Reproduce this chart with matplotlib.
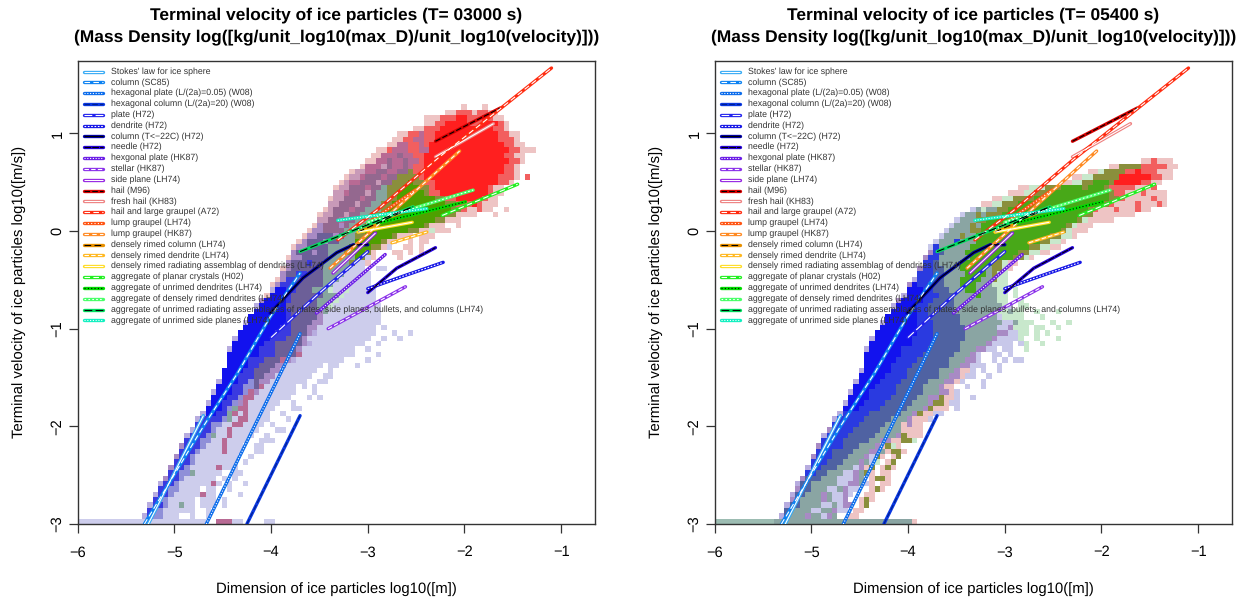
#!/usr/bin/env python3
"""Terminal velocity of ice particles, two output times side by side."""

import re
import numpy as np
import matplotlib
matplotlib.use('Agg')
import matplotlib.pyplot as plt
from matplotlib.colors import to_rgba

plt.rcParams['font.family'] = ['Liberation Sans', 'DejaVu Sans']
plt.rcParams['text.hinting'] = 'no_hinting'

times = ['03000', '05400']
x_ticks = [-6, -5, -4, -3, -2, -1]
y_ticks = [-3, -2, -1, 0, 1]

line_names = [
    "Stokes' law for ice sphere", "column (SC85)",
    "hexagonal plate (L/(2a)=0.05) (W08)", "hexagonal column (L/(2a)=20) (W08)",
    "plate (H72)", "dendrite (H72)", "column (T<\u221222C) (H72)", "needle (H72)",
    "hexgonal plate (HK87)", "stellar (HK87)", "side plane (LH74)", "hail (M96)",
    "fresh hail (KH83)", "hail and large graupel (A72)", "lump graupel (LH74)",
    "lump graupel (HK87)", "densely rimed column (LH74)", "densely rimed dendrite (LH74)",
    "densely rimed radiating assemblag of dendrites (LH74)",
    "aggregate of planar crystals (H02)", "aggregate of unrimed dendrites (LH74)",
    "aggregate of densely rimed dendrites (LH74)",
    "aggregate of unrimed radiating assemblages of plates, side planes, bullets, and columns (LH74)",
    "aggregate of unrimed side planes (LH74)",
]
line_x = [
    [-5.27, -4.70], [-5.31, -4.70, -4.35, -4.01, -3.70], [-4.67, -3.70], [-4.25, -3.70],
    [-4.00, -3.53, -3.00], [-3.00, -2.60, -2.22], [-4.01, -3.67, -3.32, -3.15, -3.00],
    [-3.00, -2.70, -2.30], [-3.53, -2.82], [-3.41, -2.61], [-3.36, -2.92], [-2.30, -1.63],
    [-2.30, -1.70], [-3.31, -2.91, -2.27, -1.10], [-3.10, -2.51], [-3.39, -2.05],
    [-3.10, -2.53], [-2.75, -2.39], [-3.10, -2.54], [-2.23, -1.45], [-2.90, -1.99],
    [-3.00, -1.91], [-3.70, -2.53], [-3.31, -2.39],
]
line_y = [
    [-3.00, -1.89], [-3.00, -2.00, -1.46, -0.88, -0.43], [-3.00, -1.05], [-3.00, -1.89],
    [-1.09, -0.66, -0.21], [-0.59, -0.45, -0.32], [-0.84, -0.48, -0.22, -0.14, -0.14],
    [-0.63, -0.38, -0.17], [-0.84, -0.24], [-1.00, -0.57], [-0.43, -0.02], [0.92, 1.26],
    [0.76, 1.10], [-0.09, 0.21, 0.75, 1.67], [0.01, 0.42], [-0.38, 0.82],
    [-0.01, 0.25], [-0.12, -0.01], [-0.01, 0.09], [0.16, 0.48], [0.08, 0.30],
    [0.09, 0.42], [-0.21, 0.25], [0.11, 0.23],
]
line_colors = [
    '#35aaf5', '#0c82f2', '#0b6cec', '#0a38e2', '#2222ee', '#1616e6', '#0000a8', '#2400dc',
    '#6a1ce6', '#8a30ea', '#9422e2', '#d80000', '#ee8080', '#ff2c10', '#ff5412', '#ff8a22',
    '#e89000', '#ffb820', '#ffdc20', '#20f020', '#00dd00', '#48ff68', '#00e060', '#10f0c0',
]
inner_colors = [
    'white', 'white', 'white', '#002090', 'white', 'white', 'black', 'black',
    'white', 'white', 'white', 'black', 'white', 'white', 'white', 'white',
    'black', 'white', 'white', 'white', 'black', 'white', 'black', 'white',
]
inner_dashes = [
    None, (5, 3), (1, 1.5), (5, 2), (7, 3), (1.5, 1.5), None, (6, 1),
    (1, 1.5), (4, 2), None, (5, 2), None, (5, 3), (1, 2), (4, 3),
    (6, 3), (4, 2), None, (5, 3), (1, 2), (1.5, 2), (7, 3), (1, 1.5),
]

cell_colors = {
    'L': '#cdcdec', 'P': '#b7acdf', 'M': '#a88ac4', 'V': '#b86a94', 'D': '#6c5f98',
    'E': '#94688f', 'W': '#c89ab8',
    'B': '#1212ee', 'b': '#3a3ae0', 'c': '#8f8fd8', 't': '#86a59f', 'g': '#4ea000',
    'o': '#8a8f3c', 'R': '#ff1f1f', 'r': '#f25f5f', 'p': '#eec4c4', 'n': '#c8e8cc',
    'T': '#9cbcb2',
}
right_overrides = {'D': '#4f62a2', 't': '#8aa5a3', 'b': '#2a3ae0', 'g': '#48a818', 'L': '#c8c8ea'}

# each row, top down: first column, then letter+run length (_ = empty cells)
left_cells = [
    "", "72 p1 _3 p1", "69 p2 r3 p1 r2 p2", "65 p3 r3 R2 r3 R1 r1 p2", "65 p2 r2 R4 r3 R3 r1 p1",
    "63 p2 r3 R10 r2 p1", "60 p2 r2 V1 r2 R12 r2 p2", "59 p2 r2 V2 r2 R12 r2 r1 p1",
    "58 p2 V2 r2 V1 r1 R14 r2 p2", "56 p2 r1 V3 r2 V2 R15 r2 p3", "55 p2 V3 E1 V2 r2 R15 r2 p2",
    "54 p2 V2 E1 V2 E1 V2 r1 R16 r2 p1", "53 p1 V3 W1 E1 V2 E1 V1 r2 R15 r2 p1",
    "51 p1 W2 V2 E2 V2 E2 o1 r2 R15 r2 p1", "50 p1 W2 V1 E3 V1 E2 o4 r1 R14 r3 p1 _1 r1",
    "49 p1 W1 V2 E3 W1 E2 o3 g1 o2 r2 R12 r2 p1", "48 p1 W2 E3 V1 E2 t1 o3 g3 o2 r1 R10 r1 p2",
    "48 W2 V1 E3 W1 E1 t2 o2 g5 o1 r2 R9 r1 p2", "47 p1 W2 E3 V1 E2 t2 o2 g7 o2 r2 R5 r1 p2",
    "47 W2 E3 W1 E2 t2 o2 g10 o2 r3 R1 r1 p3", "46 p1 W1 E3 V1 E2 t3 o1 g12 o2 r1 p2 r1 p2 _2 p1",
    "45 p1 W2 E2 W1 E2 t2 o2 g12 o2 p4 _3 p1", "45 W2 E2 V1 E2 t3 o1 g11 o2 p3",
    "44 p1 M1 E3 M1 E1 t3 o2 g9 o1 p3 _2 p1", "43 p1 M2 E4 t3 o1 g8 o2 p2 n1 p3",
    "42 p1 M2 D3 M1 D1 t2 o2 g5 o1 p3 _1 p3", "41 p1 M1 D3 M1 D2 t3 g5 o1 p2 _2 p1 _1 p2",
    "40 p1 M2 D4 t4 g4 o2 p1 L1 _2 p2 _1 p1", "40 M1 D3 M1 D2 t3 o2 g2 o1 p1 _3 p2 _1 p1 _1 p1",
    "39 p1 M2 D5 t5 g1 o1 L1 p1 _4 p1", "39 M1 D3 b1 D2 t5 o1 L2 p1",
    "38 p1 M1 D6 t5 L3 _2 L2", "38 M1 D2 b2 D3 t4 L5", "37 p1 M1 b2 D5 t3 L6", "36 p1 M1 b3 D5 t2 L7",
    "36 P1 B2 b2 D3 t3 n1 L2 n1 L5", "35 p1 B3 b1 D6 t3 n1 L6", "34 M1 B4 b1 D5 t3 n1 L7",
    "33 P1 B5 D6 t2 n1 L9", "33 B6 b1 D5 M1 t1 L10", "32 B7 b1 D5 M1 L11", "31 P1 B7 b1 D4 M2 L11",
    "31 B7 b2 D3 M2 L11 _1 L1", "30 B7 b3 D3 M1 P1 L11 _3 L1 _2 L1", "29 P1 B6 b3 D3 M1 L12 _2 L1 _2 L1",
    "29 B6 b2 D5 M1 P1 L10 _2 L1", "28 P1 B5 b3 D4 M1 L10 _2 L1", "28 B6 b3 D4 V1 L10 _4 L1",
    "28 B4 b3 D3 V1 M1 P1 L9 _4 L1", "28 B4 b2 D3 M2 L7 _1 L2 _3 L1", "27 B4 b2 D3 M2 L7 _2 L1",
    "27 B3 b3 D2 M2 L7 _2 L2", "26 P1 B3 b2 c1 D1 M2 L7 _2 L2", "26 B3 b2 c2 D1 V1 L6 _1 L1 _1 L1",
    "25 P1 B3 b2 c1 V1 M1 L7 _3 L1", "25 B3 b2 c1 V2 L7 _3 L1 _1 L1", "24 P1 B2 b2 c1 M1 V1 L6 _2 L1",
    "24 B3 b1 c1 t1 V2 L5 _3 L2", "23 P1 B2 b2 t1 V1 L1 V1 L4 _2 L1", "22 P1 b4 c1 t1 L1 V2 L4 _3 L1",
    "22 b3 c2 L2 V2 L4 _1 L1", "21 P1 b3 c1 L2 V1 L5 _3 L2", "20 P1 b3 c1 t1 L2 V1 L4 _2 L1",
    "20 b3 c2 L2 V1 L4 _2 L3", "19 M1 b3 c1 L3 V1 L3 _2 L2", "19 b3 c1 L4 V1 L3 _2 L2",
    "18 M1 b2 c1 L8 _2 L1", "18 b3 c1 L8 _1 L1", "17 M1 b2 c1 L5 V1 L3", "17 b2 c2 t1 L5 _2 L2",
    "16 M1 b2 c1 L6 _1 L1 _1 L1", "15 P1 b2 c1 L6 V1 L1 _1 L1 _2 L1", "15 b2 c2 L4 _1 L2 _2 L1",
    "14 P1 b2 c1 L5 V1 L2 _4 L1", "14 b1 c2 L5 _1 L3 _1 L1", "13 P1 b2 c1 L2 t1 L2 _1 L3 _1 L1",
    "13 b1 c2 L6 _2 L1", "12 P1 b1 c2 L3 _2 L1 _2 L1", "0 L24 _2 V3 L2 _4 L2",
]
right_cells = [
    "", "", "", "", "", "", "", "", "", "", "",
    "80 p2 r1 p3", "74 p2 o4 r4 r1 p2", "70 p2 n1 o4 r2 R1 r3 p3", "67 p2 n2 o5 R6 r2 p2",
    "65 p2 n2 o2 g3 o1 R5 r2 p2", "57 p2 n3 o3 g4 o1 g3 o1 r5 p3 r1",
    "55 p3 n2 o3 g11 o1 r2 p3 r1 p4", "52 p2 n2 o4 g14 o2 r1 p5 r1 p2", "50 p2 n2 o3 g16 o1 r1 p4 r1 p3 r1 p1",
    "48 L1 t1 n1 t2 o2 g15 o1 r1 p3 r1 p3 r1 p2", "46 L1 t2 o1 t1 o3 g15 o2 p8", "45 L1 t3 o2 g17 o1 n1 p5",
    "44 L1 t3 o1 t1 g16 o1 n1 p3", "43 L1 t4 o2 g15 o1 n1 p3", "42 L1 t3 o1 t2 g14 o2 n2 p1",
    "41 L1 t3 b1 t3 g12 o2 n2 p1", "40 L1 b1 t6 g11 o2 n2 p2", "40 M1 b1 D1 t4 g10 o2 n2 p2",
    "39 M1 b2 t6 g8 o2 n1 p1", "39 b2 D1 t4 g6 o2 n1 p2", "38 M1 b2 D2 t3 g5 t1 o2 n1 p1",
    "38 b3 D2 t4 g4 t1 o1 n2", "37 P1 b3 D2 t3 g4 t2 o1 n2", "36 M1 B1 b2 D3 t3 g3 t3 n3",
    "36 B3 b2 D3 t3 g2 t4 n2 _1 n1", "35 P1 B3 b3 D3 t4 g1 t3 n2 _1 n1", "34 M1 B4 b2 D4 t8 n2 _2 n1",
    "33 P1 B4 b2 D5 t9 n1 L1 _1 n2", "33 B5 b2 D5 t8 n2 t1 n2 _2 n1 _3 n1", "32 B6 b2 D6 t7 L1 n4 _3 n1",
    "31 P1 B6 b3 D5 t8 L2 t1 n3 _3 n1 _2 n1", "31 B7 b3 D6 t6 L2 M1 n3 _1 n2 _2 n1",
    "30 B8 b3 D6 t6 M2 L2 n2 _1 n1 _1 n1", "29 P1 B7 b4 D6 t5 M1 L4 n1 _2 n1 _3 n1",
    "29 B8 b4 D5 t5 M1 L4 _1 L1 n1 _2 n1", "28 P1 B6 b5 D6 t3 M2 L2 _1 L2 _2 n1",
    "28 B7 b4 D6 t3 M1 L1 _2 L2 _1 L1", "28 B6 b4 D6 t3 M2 L1 _2 L1 _1 L1 _1 L2",
    "28 B5 b4 D7 t2 M2 L3 _2 L1", "27 P1 B5 b3 D6 t3 M1 p2 L1 _1 L1 _2 L1", "27 B5 b4 D6 t2 M2 p1 L2 _2 L1",
    "26 P1 B4 b4 D5 t3 M2 p1 L1 _3 L1", "26 B4 b4 D5 t3 M1 p2 _2 L1 _2 L1", "25 P1 B3 b5 D5 t3 M2 p1 L1",
    "25 B4 b4 D5 t2 M2 o1 p2 L1 _2 L1", "24 P1 B3 b4 D5 t3 M1 o2 p1 L2", "24 B3 b4 D5 t3 M1 o1 p3 _1 L1",
    "23 P1 b5 D6 t2 M1 o1 p2 L2", "22 P1 b5 D5 t3 M1 p3 L1", "22 b5 D5 t3 p1 M1 p2", "21 M1 b4 D5 t4 p4",
    "20 P1 b4 D5 t4 M1 o1 p3", "20 b4 D5 t2 M2 p2 o2 n1", "19 M1 b4 D3 t3 M1 p1 o1 n1 p1",
    "19 b3 D4 t3 M2 t1 p1 o2 p1", "18 M1 b3 D3 t3 M1 L1 o1 p1 _1 p1 o1", "18 b3 D3 t3 M1 t1 L1 n1 _1 p1 o1",
    "17 P1 b2 D3 t3 L1 M1 p1 o1 _1 p1 o1 p1", "17 b2 D2 t3 L2 M1 t1 o1 p1 _1 p2",
    "16 M1 D3 t3 L3 M1 t1 _1 p1 o2 p1", "15 P1 D2 t5 L2 M2 t1 L1 p1 _1 p2", "15 M1 D2 t3 L2 t1 M1 L2 _2 p1 o1 p1",
    "14 P1 D2 t3 M1 t1 L2 M1 L1 _2 p2", "14 M1 D1 t4 M1 t1 L2 M1 _2 p1 o1 p1",
    "13 P1 D2 t4 L2 t1 L1 M2 _1 p1 o1", "13 D1 t4 L2 t2 M1 L2 _1 p2", "12 P1 D1 t3 M1 t2 L1 M1 t1 _2 p2",
    "0 T11 t26 p1",
]

CELL = 0.055
N_COLS = 90
GRID_TOP = 1.345


def draw_cells(ax, rows, palette):
    img = np.zeros((len(rows), N_COLS, 4))
    for j, row in enumerate(rows):
        if not row:
            continue
        col = int(row.split()[0])
        for code, run in re.findall(r'([A-Za-z_])(\d+)', row):
            if code != '_':
                img[j, col:col + int(run)] = to_rgba(palette[code])
            col += int(run)
    ax.imshow(img, extent=(-6, -6 + N_COLS * CELL, GRID_TOP - len(rows) * CELL, GRID_TOP),
              interpolation='nearest', aspect='auto', zorder=1)


def draw_line(ax, xs, ys, idx):
    ax.plot(xs, ys, color=line_colors[idx], lw=2.4, solid_capstyle='round', zorder=3)
    inner, = ax.plot(xs, ys, color=inner_colors[idx], lw=0.8, zorder=4, solid_capstyle='butt')
    if inner_dashes[idx] is not None:
        inner.set_dashes(inner_dashes[idx])


def draw_panel(ax, time_str, rows, palette):
    draw_cells(ax, rows, palette)

    for idx in range(len(line_names)):
        draw_line(ax, line_x[idx], line_y[idx], idx)

    # legend is hand placed, R style, no frame
    for idx, name in enumerate(line_names):
        y = 1.634 - idx * 0.1108
        draw_line(ax, [-5.935, -5.74], [y, y], idx)
        ax.text(-5.66, y, name, fontsize=6.35, va='center', ha='left', color='#333333', zorder=5)

    ax.set_xlim(-6, -0.65)
    ax.set_ylim(-3, 1.745)
    ax.set_xticks(x_ticks)
    ax.set_yticks(y_ticks)
    ax.set_xticklabels([str(v).replace('-', '\u2212') for v in x_ticks], fontsize=10.5)
    ax.set_yticklabels([str(v).replace('-', '\u2212') for v in y_ticks], fontsize=10.5,
                       rotation=90, va='center')
    ax.tick_params(axis='x', length=6.5, width=0.9, color='#333333', pad=9)
    ax.tick_params(axis='y', length=6.5, width=0.9, color='#333333', pad=3)
    for side in ax.spines.values():
        side.set_linewidth(1.0)
        side.set_color('#333333')

    ax.set_xlabel('Dimension of ice particles log10([m])', fontsize=10.7, labelpad=16)
    ax.set_ylabel('Terminal velocity of ice particles log10([m/s])', fontsize=10.7, labelpad=18)
    ax.set_title(f'Terminal velocity of ice particles (T= {time_str} s)\n'
                 '(Mass Density log([kg/unit_log10(max_D)/unit_log10(velocity)]))',
                 fontsize=12.5, fontweight='bold', pad=14, linespacing=1.45)


def main():
    fig = plt.figure(figsize=(12.46, 6.01), dpi=100)
    w, h = 1246.0, 601.0
    ax1 = fig.add_axes([77.7 / w, 1 - 524 / h, 517.3 / w, 463.3 / h])
    ax2 = fig.add_axes([714.7 / w, 1 - 524 / h, 517.3 / w, 463.3 / h])

    draw_panel(ax1, times[0], left_cells, cell_colors)
    draw_panel(ax2, times[1], right_cells, {**cell_colors, **right_overrides})

    fig.savefig('out.png', dpi=100)


if __name__ == '__main__':
    main()
